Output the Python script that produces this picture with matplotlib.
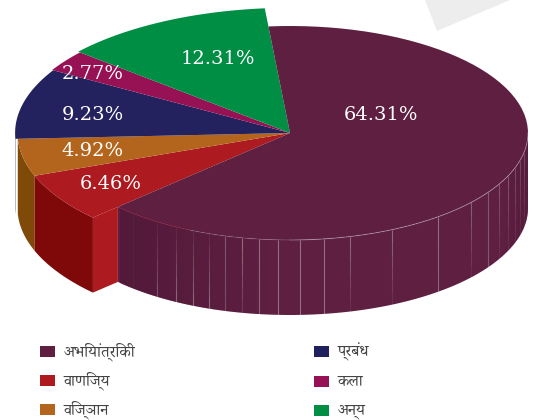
import matplotlib
matplotlib.use('Agg')
import matplotlib.pyplot as plt
from matplotlib.patches import Polygon
import numpy as np

categories = ['अभियांत्रिकी', 'वाणिज्य', 'विज्ञान', 'प्रबंध', 'कला', 'अन्य']
values = [64.31, 6.46, 4.92, 9.23, 2.77, 12.31]
top_colors = ['#5E1F41', '#AD1A1F', '#B3651D', '#23215E', '#961254', '#008E45']
side_colors = ['#5E1F41', '#7F0808', '#7F4A08', '#23215E', '#961254', '#008E45']
legend_colors = ['#5E1F41', '#AD1A1F', '#B3651D', '#20205E', '#961254', '#008E45']
radius_scale = [1.0, 1.145, 1.145, 1.155, 1.16, 1.17]
label_pos = [(381, 113), (111, 182), (93, 149), (93, 113), (93, 72), (218, 57)]
legend_pos = [(40, 346), (40, 375), (40, 404), (313.5, 346), (313.5, 376), (313.5, 405)]
# faint vertical lines on the wall of the big slice: x, alpha at top, alpha at bottom
wall_x = [133, 157, 176, 193, 209, 225, 242, 259, 278, 300, 324, 350, 392, 438, 471, 488, 499, 508, 515, 520, 524]
wall_top = [0.03, 0.03, 0.03, 0.05, 0.05, 0.25, 0.35, 0.35, 0.35, 0.35, 0.35, 0.35, 0.35, 0.35, 0.3, 0.25, 0.25, 0.25, 0.2, 0.2, 0.2]
wall_bot = [0.03, 0.25, 0.35, 0.35, 0.35, 0.2, 0.1, 0.3, 0.35, 0.35, 0.35, 0.05, 0.05, 0.3, 0.05, 0.25, 0.05, 0.05, 0.05, 0.03, 0.03]

# apex of the pie and size of the unit slice
cx, cy = 290, 133
rx, ry = 238, 107
depth = 75
start = -5.2


def arc(a0, a1, r, n=80):
    t = np.radians(np.linspace(a0, a1, n))
    return cx + rx * r * np.sin(t), cy - ry * r * np.cos(t)


fig = plt.figure(figsize=(5.33, 4.2), dpi=100)
ax = fig.add_axes([0, 0, 1, 1])
ax.axis('off')

ax.add_patch(Polygon([(425, 0), (437, 31), (510, 0)], color='#EDEDED', lw=0))

angles = start + np.cumsum([0] + values) * 3.6

# wall of the big slice, darker on the left and at the far right
main_end = angles[1]
x, y = arc(90, main_end, 1)
wall = Polygon(np.r_[np.c_[x, y], np.c_[x, y + depth][::-1]], color=side_colors[0], lw=0, zorder=2)
ax.add_patch(wall)
grad = np.zeros((1, 410, 4))
grad[0, :, :3] = np.array([0x50, 0x18, 0x38]) / 255
xs = np.linspace(120, 530, 410)
grad[0, :, 3] = np.clip((270 - xs) / 150, 0, 1) * 0.75 + np.clip((xs - 505) / 23, 0, 1) * 0.5
im = ax.imshow(grad, extent=(120, 530, 320, 130), aspect='auto', zorder=2.1)
im.set_clip_path(wall)

for wx, a0, a1 in zip(wall_x, wall_top, wall_bot):
    t = np.arcsin((wx - cx) / rx)
    y0 = cy + ry * abs(np.cos(t))
    for k in range(6):
        ya = y0 + depth * k / 6
        yb = y0 + depth * (k + 1) / 6
        ax.plot([wx, wx], [ya, yb], color='white', lw=0.8, solid_capstyle='butt',
                alpha=a0 + (a1 - a0) * (k + 0.5) / 6, zorder=2.2)

for i in [3, 2, 1]:
    a0, a1 = angles[i], angles[i + 1]
    if i == 3:
        a1 = 270
    x, y = arc(a0, a1, radius_scale[i])
    ax.add_patch(Polygon(np.r_[np.c_[x, y], np.c_[x, y + depth][::-1]], color=side_colors[i], lw=0, zorder=2))

# cut face of the red slice next to the big slice
x0, y0 = arc(main_end, main_end, radius_scale[1], 1)
x1, y1 = arc(main_end, main_end, 1, 1)
ax.add_patch(Polygon([(x0[0], y0[0]), (x1[0], y1[0]), (x1[0], y1[0] + depth), (x0[0], y0[0] + depth)],
                     color=top_colors[1], lw=0, zorder=3))

# top faces
for i in [1, 2, 3, 4, 5, 0]:
    x, y = arc(angles[i], angles[i + 1], radius_scale[i])
    pts = np.r_[[[cx, cy]], np.c_[x, y]]
    ax.add_patch(Polygon(pts, color=top_colors[i], lw=0, zorder=4))

# rim of the big slice
x, y = arc(90, 180, 1)
ax.plot(x, y, color='white', lw=0.7, alpha=0.3, zorder=4.5)
x, y = arc(180, 205, 1)
ax.plot(x, y, color='white', lw=0.7, alpha=0.12, zorder=4.5)
x, y = arc(205, main_end, 1)
ax.plot(x, y, color='#8A1A3A', lw=0.7, alpha=0.6, zorder=4.5)

for v, (lx, ly) in zip(values, label_pos):
    ax.text(lx, ly, '%.2f%%' % v, color='white', fontsize=14, family='DejaVu Serif',
            ha='center', va='center_baseline', zorder=5)

for name, c, (lx, ly) in zip(categories, legend_colors, legend_pos):
    ax.add_patch(Polygon([(lx, ly), (lx + 15, ly), (lx + 15, ly + 11), (lx, ly + 11)], color=c, lw=0))
    ax.text(lx + 24, ly + 5.5, name, color='#444444', fontsize=11.5, family=['Noto Serif Devanagari', 'Noto Sans'],
            ha='left', va='center')

ax.set_xlim(0, 533)
ax.set_ylim(420, 0)
fig.savefig('out.png', dpi=100)
